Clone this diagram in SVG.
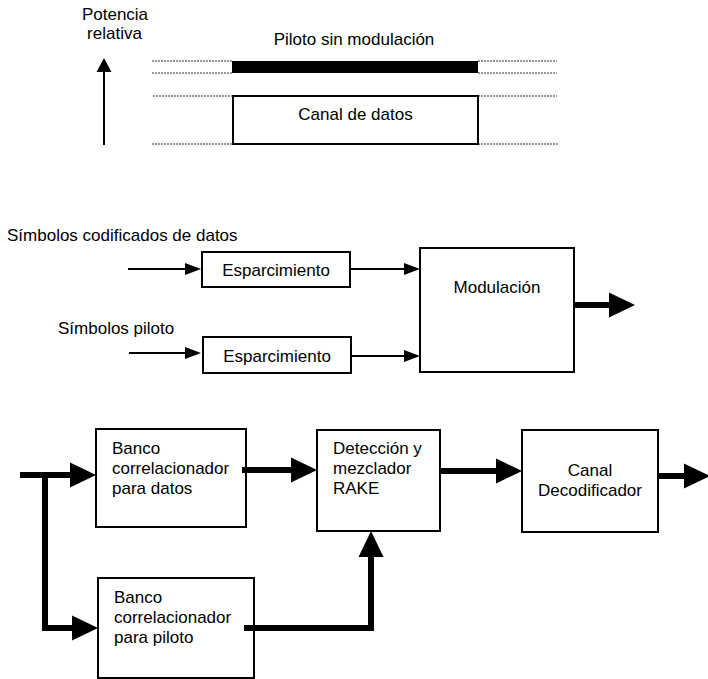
<svg xmlns="http://www.w3.org/2000/svg" width="708" height="679" viewBox="0 0 708 679">
<style>
text{font-family:"Liberation Sans",Arial,sans-serif;font-size:17px;fill:#000}
.box{fill:#fff;stroke:#000;stroke-width:2}
.dot{stroke:#777;stroke-width:1.5;stroke-dasharray:2 1;fill:none}
.thin{stroke:#000;stroke-width:2;fill:none}
.thick{stroke:#000;stroke-width:6;fill:none;stroke-linejoin:miter}
.mid{text-anchor:middle}
</style>
<defs>
<marker id="big" markerUnits="userSpaceOnUse" markerWidth="27" markerHeight="26" refX="0" refY="12.5" orient="auto" overflow="visible">
<path d="M0,0 L26,12.5 L0,25 Z" fill="#000"/>
</marker>
<marker id="small" markerUnits="userSpaceOnUse" markerWidth="17" markerHeight="13" refX="0" refY="6" orient="auto" overflow="visible">
<path d="M0,0 L16,6 L0,12 Z" fill="#000"/>
</marker>
<marker id="up" markerUnits="userSpaceOnUse" markerWidth="15" markerHeight="15" refX="0" refY="7.5" orient="auto" overflow="visible">
<path d="M0,0 L14,7.5 L0,15 Z" fill="#000"/>
</marker>
</defs>

<g id="power-chart">
<text class="mid" x="115" y="20">Potencia</text>
<text class="mid" x="114.5" y="39">relativa</text>
<path class="thin" d="M104,145 V72" marker-end="url(#up)"/>
<text class="mid" x="354" y="45">Piloto sin modulación</text>
<path class="dot" d="M152,61 H232 M478,61 H557 M152,73 H232 M478,73 H557 M153,96 H233 M478,96 H557 M152,144 H233 M478,144 H558"/>
<rect id="pilot-bar" x="232" y="61" width="246" height="12" fill="#000"/>
<g id="data-channel">
<rect class="box" x="233" y="96" width="245" height="48"/>
<text class="mid" x="355.5" y="120">Canal de datos</text>
</g>
</g>

<text x="7" y="241">Símbolos codificados de datos</text>
<text x="58" y="334">Símbolos piloto</text>

<g id="esp1">
<rect class="box" x="202" y="252" width="148" height="35"/>
<text class="mid" x="276" y="276">Esparcimiento</text>
</g>
<g id="esp2">
<rect class="box" x="203" y="337" width="148" height="36"/>
<text class="mid" x="277" y="362">Esparcimiento</text>
</g>
<g id="mod">
<rect class="box" x="420" y="248" width="154" height="124"/>
<text class="mid" x="497" y="293">Modulación</text>
</g>

<g id="banco-datos">
<rect class="box" x="96" y="429" width="150" height="98"/>
<text x="112" y="454">Banco</text>
<text x="112" y="474">correlacionador</text>
<text x="112" y="494">para datos</text>
</g>
<g id="banco-piloto">
<rect class="box" x="98" y="578" width="156" height="100"/>
<text x="114" y="603">Banco</text>
<text x="114" y="623">correlacionador</text>
<text x="114" y="643">para piloto</text>
</g>
<g id="rake">
<rect class="box" x="317" y="430" width="123" height="101"/>
<text x="333" y="454">Detección y</text>
<text x="333" y="474">mezclador</text>
<text x="333" y="494">RAKE</text>
</g>
<g id="decod">
<rect class="box" x="522" y="430" width="136" height="102"/>
<text class="mid" x="590" y="476">Canal</text>
<text class="mid" x="590" y="496">Decodificador</text>
</g>

<g id="connectors">
<path class="thin" d="M128,269 H185" marker-end="url(#small)"/>
<path class="thin" d="M350,269 H404" marker-end="url(#small)"/>
<path class="thin" d="M129,353 H185" marker-end="url(#small)"/>
<path class="thin" d="M351,356 H404" marker-end="url(#small)"/>
<path class="thick" d="M574,305 H609" marker-end="url(#big)"/>
<path class="thick" d="M20,475 H70" marker-end="url(#big)"/>
<path class="thick" d="M45,475 V628 H72" marker-end="url(#big)"/>
<path class="thick" d="M242,470 H291" marker-end="url(#big)"/>
<path class="thick" d="M244,628 H371 V557" marker-end="url(#big)"/>
<path class="thick" d="M440,471 H496" marker-end="url(#big)"/>
<path class="thick" d="M658,476 H684" marker-end="url(#big)"/>
</g>
</svg>
